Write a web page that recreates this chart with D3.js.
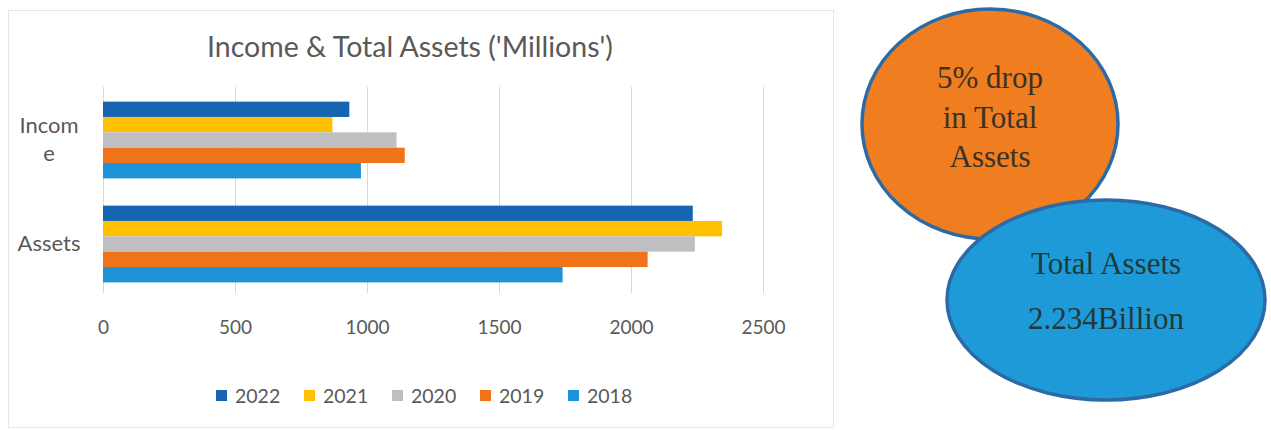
<!DOCTYPE html>
<html>
<head>
<meta charset="utf-8">
<script src="https://cdn.jsdelivr.net/npm/d3@7"></script>
<style>
  html, body { margin: 0; padding: 0; background: #ffffff; }
  svg { display: block; }
</style>
</head>
<body>
<svg id="chart" width="1271" height="430"></svg>
<script>
// Income and total assets, in millions, by year
const categories = ["Income", "Assets"];
const categoryLines = [["Incom", "e"], ["Assets"]];
const years = ["2022", "2021", "2020", "2019", "2018"];
const income = [933, 869, 1112, 1143, 977];
const assets = [2234, 2345, 2242, 2063, 1741];
const xTicks = [0, 500, 1000, 1500, 2000, 2500];
const yearColors = ["#1565b3", "#ffc000", "#bfbfc2", "#f0731a", "#1c92d9"];
const titleText = "Income & Total Assets ('Millions')";
const calloutDrop = ["5% drop", "in Total", "Assets"];
const calloutTotal = ["Total Assets", "2.234Billion"];

const seriesByCategory = [income, assets];

const svg = d3.select("#chart");
const sansFont = "Lato, 'Open Sans', sans-serif";
const textGrey = "#595959";

// chart frame
svg.append("rect")
  .attr("x", 8.5).attr("y", 10.5)
  .attr("width", 825).attr("height", 417)
  .attr("fill", "#ffffff")
  .attr("stroke", "#e6e6e6")
  .attr("stroke-width", 1);

const plot = { left: 103, right: 763, top: 87, bottom: 293 };

const x = d3.scaleLinear()
  .domain([0, 2500])
  .range([plot.left, plot.right]);

const y = d3.scaleBand()
  .domain(categories)
  .range([plot.top + 1, plot.bottom + 3])
  .paddingInner(0.262)
  .paddingOuter(0.131);

const ySub = d3.scaleBand()
  .domain(years)
  .range([0, y.bandwidth()]);

const color = d3.scaleOrdinal().domain(years).range(yearColors);

// vertical gridlines with value labels underneath
const xAxis = d3.axisBottom(x)
  .tickValues(xTicks)
  .tickSize(-(plot.bottom - plot.top))
  .tickPadding(28)
  .tickFormat(d3.format("d"));

const gx = svg.append("g")
  .attr("transform", `translate(0,${plot.bottom})`)
  .call(xAxis);
gx.select(".domain").remove();
gx.selectAll(".tick line").attr("stroke", "#d9d9d9").attr("stroke-width", 1);
gx.selectAll(".tick text")
  .attr("fill", textGrey)
  .style("font-family", sansFont)
  .style("font-size", "19px");

// bars
const rows = categories.map((c, i) => ({
  category: c,
  values: years.map((yr, j) => ({ year: yr, value: seriesByCategory[i][j] }))
}));

const groups = svg.append("g").selectAll("g")
  .data(rows)
  .join("g")
  .attr("transform", d => `translate(0,${y(d.category)})`);

groups.selectAll("rect")
  .data(d => d.values)
  .join("rect")
  .attr("x", x(0))
  .attr("y", d => ySub(d.year))
  .attr("width", d => x(d.value) - x(0))
  .attr("height", ySub.bandwidth())
  .attr("fill", d => color(d.year));

// category labels (wrapped like the source)
const catLabels = svg.append("g");
categories.forEach((c, i) => {
  const lines = categoryLines[i];
  const cy = y(c) + y.bandwidth() / 2;
  const lh = 28;
  const t = catLabels.append("text")
    .attr("text-anchor", "middle")
    .attr("fill", textGrey)
    .style("font-family", sansFont)
    .style("font-size", "22px");
  lines.forEach((ln, k) => {
    t.append("tspan")
      .attr("x", 49)
      .attr("y", cy + 7 + (k - (lines.length - 1) / 2) * lh)
      .text(ln);
  });
});

// title
svg.append("text")
  .attr("x", 410)
  .attr("y", 57)
  .attr("text-anchor", "middle")
  .attr("fill", textGrey)
  .style("font-family", sansFont)
  .style("font-size", "28.5px")
  .text(titleText);

// legend
const legend = svg.append("g").attr("transform", "translate(216,396)");
const legendStep = 88;
years.forEach((yr, i) => {
  const g = legend.append("g").attr("transform", `translate(${i * legendStep},0)`);
  g.append("rect")
    .attr("x", 0).attr("y", -6)
    .attr("width", 11).attr("height", 11)
    .attr("fill", color(yr));
  g.append("text")
    .attr("x", 19).attr("y", 7)
    .attr("fill", textGrey)
    .style("font-family", sansFont)
    .style("font-size", "19.5px")
    .text(yr);
});

// callout ellipses
const serif = "'Liberation Serif', 'Times New Roman', serif";
svg.append("ellipse")
  .attr("cx", 990).attr("cy", 124)
  .attr("rx", 128).attr("ry", 115)
  .attr("fill", "#f07d1f")
  .attr("stroke", "#2c6aa6")
  .attr("stroke-width", 3.5);

svg.append("ellipse")
  .attr("cx", 1106).attr("cy", 300)
  .attr("rx", 159).attr("ry", 100)
  .attr("fill", "#1f9ad8")
  .attr("stroke", "#2c6aa6")
  .attr("stroke-width", 3.5);

const dropY = [88, 128, 167];
calloutDrop.forEach((ln, k) => {
  svg.append("text")
    .attr("x", 990).attr("y", dropY[k])
    .attr("text-anchor", "middle")
    .attr("fill", "#3a3226")
    .style("font-family", serif)
    .style("font-size", "31px")
    .text(ln);
});

const totalY = [274, 329];
calloutTotal.forEach((ln, k) => {
  svg.append("text")
    .attr("x", 1106).attr("y", totalY[k])
    .attr("text-anchor", "middle")
    .attr("fill", "#1f3a3a")
    .style("font-family", serif)
    .style("font-size", "31px")
    .text(ln);
});
</script>
</body>
</html>
